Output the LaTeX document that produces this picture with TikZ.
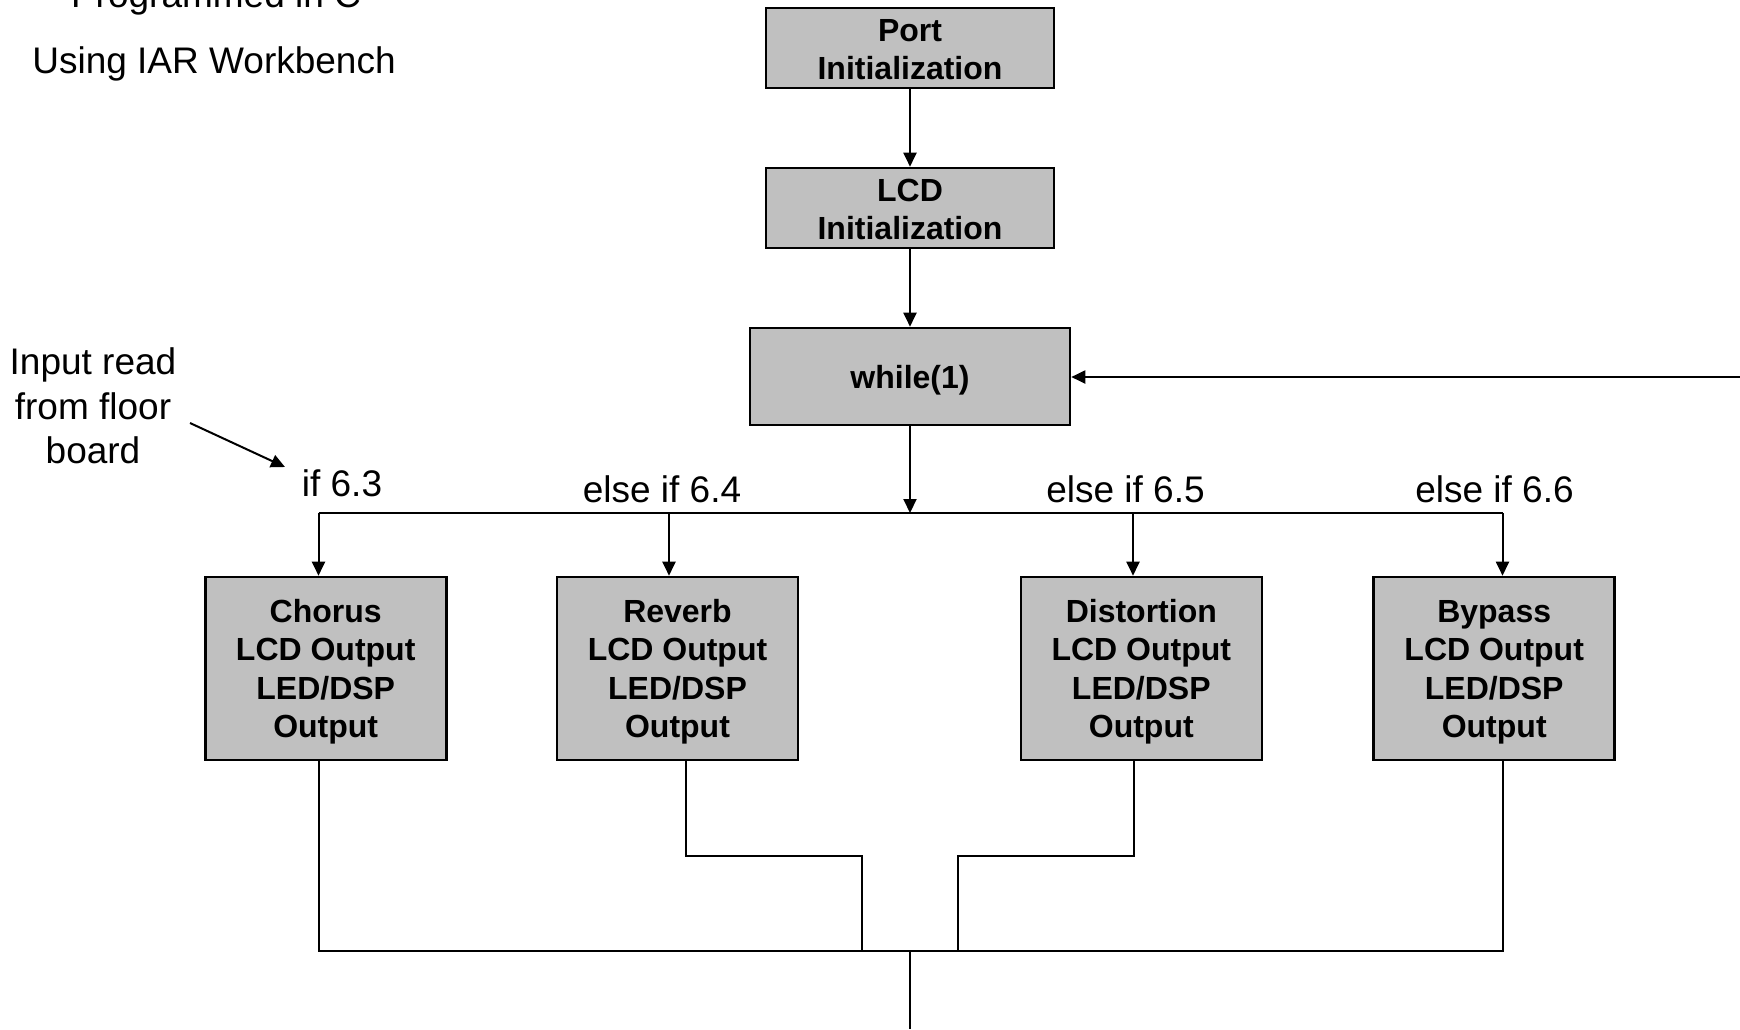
\documentclass[tikz,border=0pt]{standalone}
\usepackage{fontspec}
\setmainfont{Liberation Sans}
\usetikzlibrary{arrows.meta}
\definecolor{boxgray}{HTML}{C0C0C0}
\newcommand{\toplift}{\rule{0pt}{30pt}}
\newcommand{\smalllift}{\rule{0pt}{25pt}}
\begin{document}
\begin{tikzpicture}[x=1pt,y=-1pt,
  box/.style={draw=black, line width=2.6pt, fill=boxgray, align=center,
    font=\fontsize{32}{38.5}\selectfont\bfseries, inner sep=0pt},
  conn/.style={line width=2pt},
  arr/.style={conn, -{Triangle[length=14pt,width=13pt]}},
  lbl/.style={font=\fontsize{37}{44.4}\selectfont, align=center, inner sep=0pt}]
\useasboundingbox (0,0) rectangle (1740,1029);

% title texts
\node[lbl, anchor=base] (prog) at (216,7) {Programmed in C};
\node[lbl, anchor=base] (iar) at (214,73) {Using IAR Workbench};

% main boxes
\node[box, minimum width=288pt, minimum height=80pt] (port) at (910,48) {\smalllift Port\\Initialization};
\node[box, minimum width=288pt, minimum height=80pt] (lcd) at (910,208) {\smalllift LCD\\Initialization};
\node[box, minimum width=320pt, minimum height=97pt] (while) at (910,376.5) {\toplift while(1)};

\node[box, minimum width=241pt, minimum height=183pt] (chorus) at (325.7,668.5) {\toplift Chorus\\LCD Output\\LED/DSP\\Output};
\node[box, minimum width=241pt, minimum height=183pt] (reverb) at (677.5,668.5) {\toplift Reverb\\LCD Output\\LED/DSP\\Output};
\node[box, minimum width=241pt, minimum height=183pt] (dist) at (1141.3,668.5) {\toplift Distortion\\LCD Output\\LED/DSP\\Output};
\node[box, minimum width=241pt, minimum height=183pt] (bypass) at (1494.2,668.5) {\toplift Bypass\\LCD Output\\LED/DSP\\Output};

% branch labels
\node[lbl, anchor=base] (ifa) at (342,496) {if 6.3};
\node[lbl, anchor=base] (ifb) at (662,502) {else if 6.4};
\node[lbl, anchor=base] (ifc) at (1125.5,502) {else if 6.5};
\node[lbl, anchor=base] (ifd) at (1494.5,502) {else if 6.6};

% side note
\node[lbl] (note) at (93,406) {Input read\\from floor\\board};
\coordinate (noteA) at (190,423);
\coordinate (noteB) at (285,467);
\draw[arr] (noteA) -- (noteB);

% top flow
\draw[arr] (port.south) -- (lcd.north);
\draw[arr] (lcd.south) -- (while.north);

% feedback
\coordinate (ret) at (1740,377);
\draw[arr] (ret) -- (ret -| while.east);

% split
\coordinate (split) at (910,513);
\coordinate (xa) at (318.5,513);
\coordinate (xb) at (669,513);
\coordinate (xc) at (1133,513);
\coordinate (xd) at (1502.5,513);
\draw[arr] (while.south) -- (split);
\draw[conn] (xa) -- (xd);
\draw[arr] (xa) -- (xa |- chorus.north);
\draw[arr] (xb) -- (xb |- reverb.north);
\draw[arr] (xc) -- (xc |- dist.north);
\draw[arr] (xd) -- (xd |- bypass.north);

% merge
\coordinate (ea) at (318.5,951);
\coordinate (eb) at (686,856);
\coordinate (ec) at (1134,856);
\coordinate (ed) at (1502.5,951);
\coordinate (ib) at (862,856);
\coordinate (ic) at (958,856);
\coordinate (join) at (910,951);
\coordinate (out) at (910,1029);
\draw[conn] (ea |- chorus.south) -- (ea) -- (ed) -- (ed |- bypass.south);
\draw[conn] (eb |- reverb.south) -- (eb) -- (ib) -- (ib |- join);
\draw[conn] (ec |- dist.south) -- (ec) -- (ic) -- (ic |- join);
\draw[conn] (join) -- (out);
\end{tikzpicture}
\end{document}
